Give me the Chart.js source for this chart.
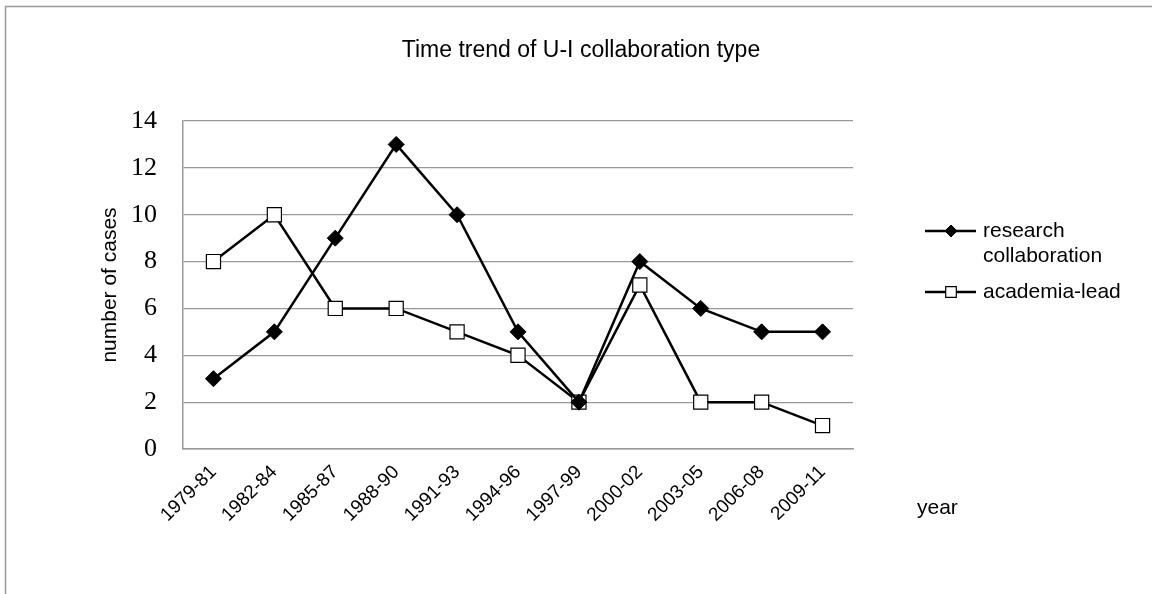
<!DOCTYPE html>
<html>
<head>
<meta charset="utf-8">
<script src="https://cdn.jsdelivr.net/npm/chart.js@4"></script>
<style>
  html, body { margin: 0; padding: 0; background: #fff; }
  #wrap { width: 1152px; height: 594px; }
</style>
</head>
<body>
<div id="wrap"><canvas id="chart" width="1152" height="594"></canvas></div>
<script>
// Data
const periods = ['1979-81', '1982-84', '1985-87', '1988-90', '1991-93', '1994-96',
                 '1997-99', '2000-02', '2003-05', '2006-08', '2009-11'];
const researchCollab = [3, 5, 9, 13, 10, 5, 2, 8, 6, 5, 5];
const academiaLead = [8, 10, 6, 6, 5, 4, 2, 7, 2, 2, 1];
const yTicks = [0, 2, 4, 6, 8, 10, 12, 14];

const titleText = 'Time trend of U-I collaboration type';
const yTitle = 'number of cases';
const xTitle = 'year';

const SANS = "'Liberation Sans', Arial, sans-serif";
const SERIF = "'Liberation Serif', 'DejaVu Serif', serif";

// Draws frame, title, axis titles and legend around the plot
const decorations = {
    id: 'decorations',
    afterDraw(chart) {
        const ctx = chart.ctx;
        ctx.save();

        // outer frame
        ctx.strokeStyle = '#999';
        ctx.lineWidth = 1.5;
        ctx.strokeRect(5.5, 6.5, 1160, 600);

        ctx.fillStyle = '#000';
        ctx.textBaseline = 'middle';

        // title
        ctx.font = '23px ' + SANS;
        ctx.textAlign = 'center';
        ctx.fillText(titleText, 581, 51);

        // y title
        ctx.save();
        ctx.translate(110, 285);
        ctx.rotate(-Math.PI / 2);
        ctx.font = '21px ' + SANS;
        ctx.fillText(yTitle, 0, 0);
        ctx.restore();

        // x title
        ctx.font = '21px ' + SANS;
        ctx.textAlign = 'left';
        ctx.fillText(xTitle, 917, 508);

        // legend (smaller markers than in the plot)
        const rows = [
            { ds: chart.data.datasets[0], y: 231, r: 6, lines: ['research', 'collaboration'] },
            { ds: chart.data.datasets[1], y: 292, r: 7.5, lines: ['academia-lead'] }
        ];
        rows.forEach(row => {
            ctx.strokeStyle = row.ds.borderColor;
            ctx.lineWidth = row.ds.borderWidth;
            ctx.beginPath();
            ctx.moveTo(925, row.y);
            ctx.lineTo(976, row.y);
            ctx.stroke();
            ctx.fillStyle = row.ds.pointBackgroundColor;
            ctx.strokeStyle = row.ds.pointBorderColor;
            ctx.lineWidth = row.ds.pointBorderWidth;
            Chart.helpers.drawPoint(ctx, {
                pointStyle: row.ds.pointStyle,
                radius: row.r,
                borderWidth: row.ds.pointBorderWidth,
                rotation: 0
            }, 951, row.y);
            ctx.fillStyle = '#000';
            ctx.font = '21px ' + SANS;
            ctx.textAlign = 'left';
            row.lines.forEach((t, i) => ctx.fillText(t, 983, row.y + i * 25));
        });

        ctx.restore();
    }
};

const ctx = document.getElementById('chart').getContext('2d');
new Chart(ctx, {
    type: 'line',
    data: {
        labels: periods,
        datasets: [{
            label: 'research collaboration',
            data: researchCollab,
            borderColor: '#000',
            borderWidth: 2.5,
            pointStyle: 'rectRot',
            pointRadius: 8,
            pointBackgroundColor: '#000',
            pointBorderColor: '#000',
            pointBorderWidth: 1,
            tension: 0
        }, {
            label: 'academia-lead',
            data: academiaLead,
            borderColor: '#000',
            borderWidth: 2.5,
            pointStyle: 'rect',
            pointRadius: 10,
            pointBackgroundColor: '#fff',
            pointBorderColor: '#000',
            pointBorderWidth: 1.2,
            tension: 0
        }]
    },
    options: {
        responsive: false,
        animation: false,
        events: [],
        layout: { padding: { left: 0, top: 121, right: 299, bottom: 0 } },
        plugins: {
            legend: { display: false },
            title: { display: false },
            tooltip: { enabled: false }
        },
        scales: {
            x: {
                offset: true,
                grid: { display: false, drawTicks: false },
                border: { display: true, color: '#999', width: 1.5 },
                ticks: {
                    color: '#000',
                    font: { family: SANS, size: 19 },
                    minRotation: 45,
                    maxRotation: 45,
                    padding: 12
                },
                afterFit(scale) { scale.height = 145; }
            },
            y: {
                min: 0,
                max: 14,
                afterBuildTicks(scale) { scale.ticks = yTicks.map(v => ({ value: v })); },
                grid: { color: '#999', lineWidth: 1.2, drawTicks: false },
                border: { display: true, color: '#999', width: 1.5 },
                ticks: {
                    color: '#000',
                    font: { family: SERIF, size: 26 },
                    padding: 26
                },
                afterFit(scale) { scale.width = 183; }
            }
        }
    },
    plugins: [decorations]
});
</script>
</body>
</html>
